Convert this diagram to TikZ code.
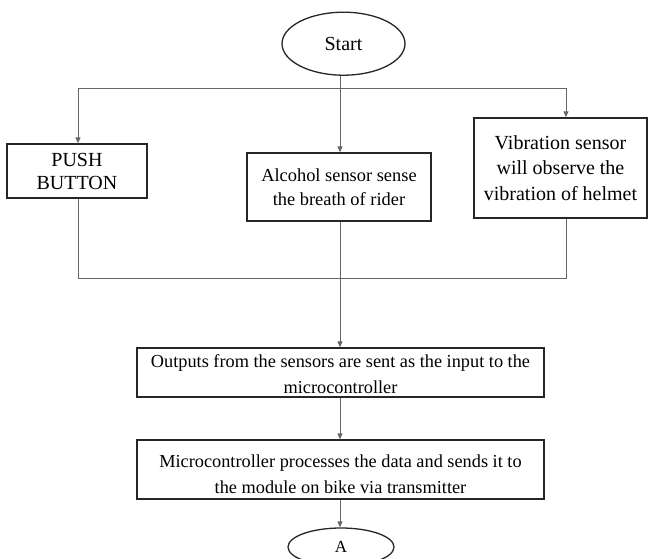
\documentclass[tikz,border=0pt]{standalone}
\usepackage{fontspec}
\setmainfont{Liberation Serif}
\usetikzlibrary{arrows.meta,shapes.geometric}
\begin{document}
\begin{tikzpicture}[x=1pt,y=-1pt,
  box/.style={draw=black!85,line width=1.3pt,rectangle,inner sep=0pt,align=center},
  oval/.style={draw=black!85,line width=1.3pt,ellipse,inner sep=0pt},
  con/.style={draw=black!60,line width=0.9pt},
  arr/.style={con,-{Triangle[length=6pt,width=5pt]}},
  big/.style={font=\fontsize{20}{23}\selectfont},
  mid/.style={font=\fontsize{18.4}{24}\selectfont},
  low/.style={font=\fontsize{18.3}{26}\selectfont,align=center}]
\useasboundingbox (0,0) rectangle (649,559);
\node[oval,big,minimum width=123,minimum height=63] (start) at (343.5,43.7) {Start};
\node[box,big,minimum width=140,minimum height=54] (push) at (77,171) {PUSH\\BUTTON};
\node[box,mid,minimum width=184,minimum height=68] (alc) at (339,187) {Alcohol sensor sense\\the breath of rider};
\node[box,font=\fontsize{20}{25.6}\selectfont,minimum width=173,minimum height=100] (vib) at (560.5,168) {Vibration sensor\\will observe the\\vibration of helmet};
\node[box,minimum width=407,minimum height=49,
  label={[low,yshift=-1.5pt]center:{Outputs from the sensors are sent as the input to the\\microcontroller}}] (out) at (340.5,372.5) {};
\node[box,minimum width=407,minimum height=59,
  label={[low,yshift=-4.5pt]center:{Microcontroller processes the data and sends it to\\the module on bike via transmitter}}] (mc) at (340.5,469.5) {};
\node[oval,font=\fontsize{17}{20}\selectfont,minimum width=106,minimum height=38] (a) at (341,547) {A};
\coordinate (tl) at (78,88);
\coordinate (tr) at (566,88);
\coordinate (bl) at (78,278);
\coordinate (br) at (566,278);
\coordinate (sx) at (340,0);
\draw[arr] (start.south -| sx) -- (alc.north -| sx);
\draw[con] (tl) -- (tr);
\draw[arr] (tl) -- (tl |- push.north);
\draw[arr] (tr) -- (tr |- vib.north);
\draw[con] (push.south -| bl) -- (bl) -- (br) -- (vib.south -| br);
\draw[arr] (alc.south -| sx) -- (out.north -| sx);
\draw[arr] (out.south -| sx) -- (mc.north -| sx);
\draw[arr] (mc.south -| sx) -- (a.north -| sx);
\end{tikzpicture}
\end{document}
